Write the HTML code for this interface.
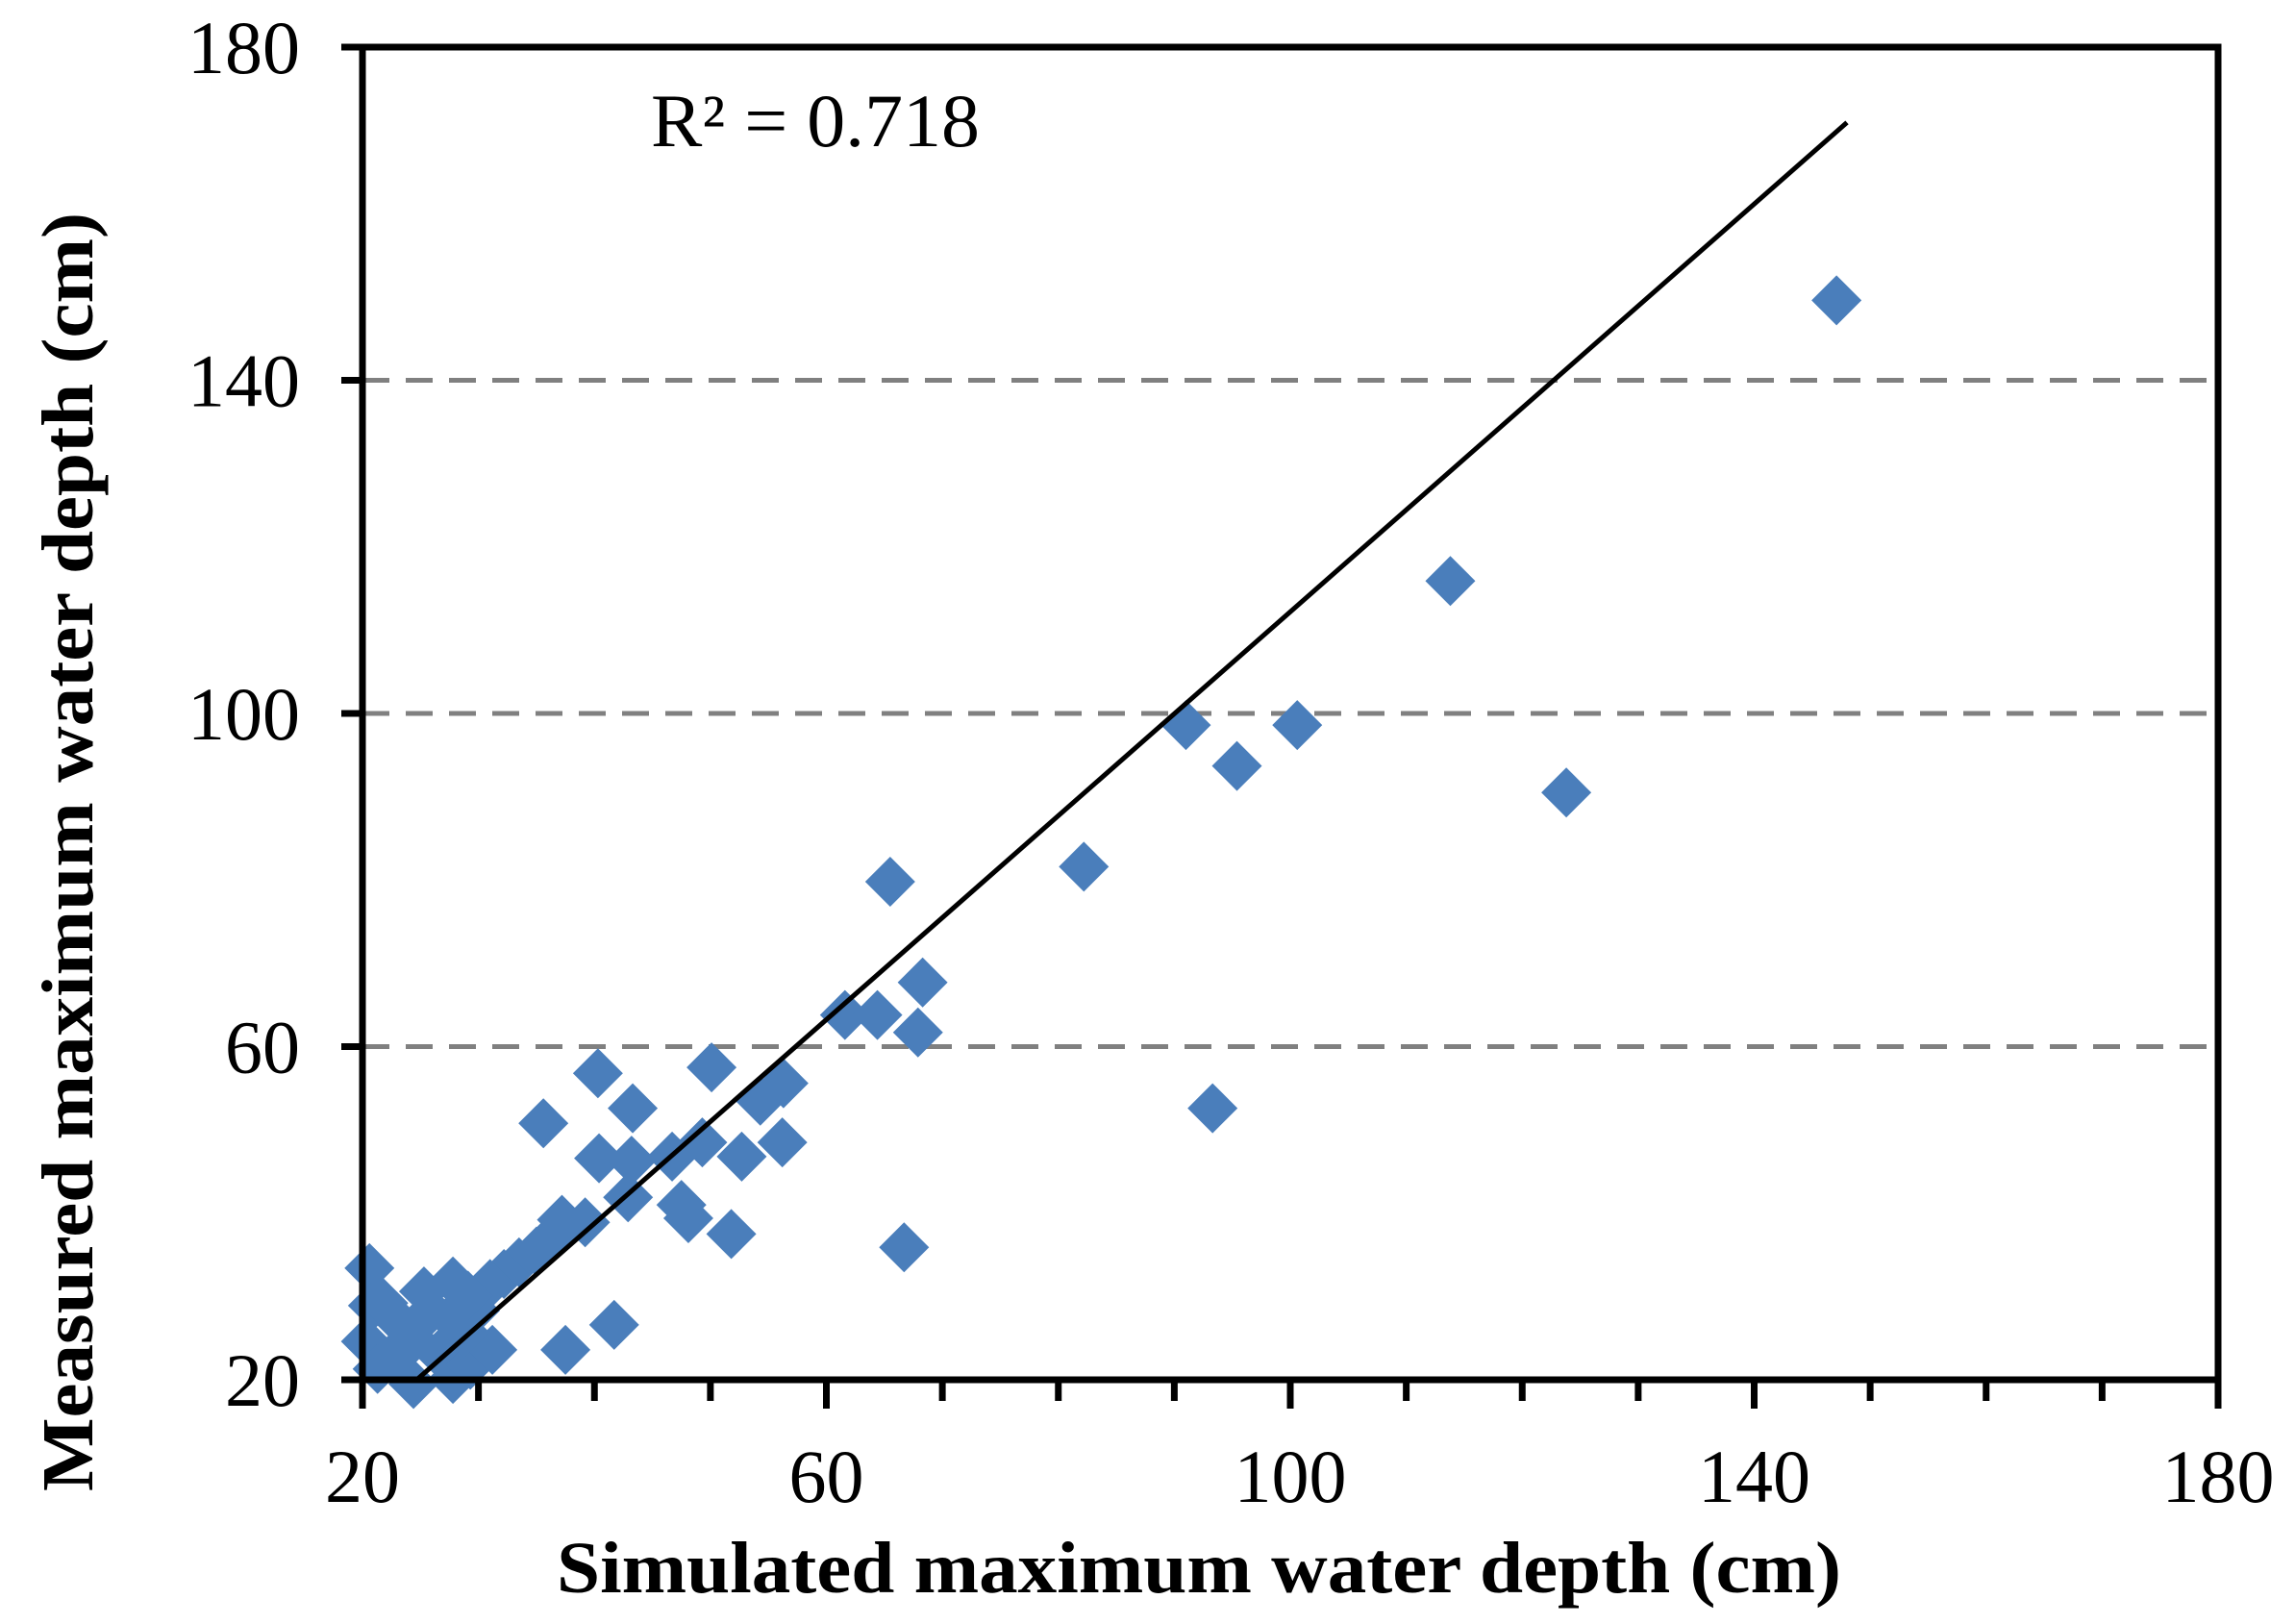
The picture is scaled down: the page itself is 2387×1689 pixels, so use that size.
<!DOCTYPE html>
<html><head><meta charset="utf-8"><style>
html,body{margin:0;padding:0;background:#fff;}
svg{display:block;font-family:"Liberation Serif",serif;}
</style></head><body>
<svg id="chart" width="2387" height="1689" viewBox="0 0 2387 1689" xmlns="http://www.w3.org/2000/svg">
<g id="grid"></g>
<g id="pts"></g>
<g id="trend"></g>
<g id="axes"></g>
<text x="677" y="152" font-size="78" textLength="342" lengthAdjust="spacingAndGlyphs">R² = 0.718</text>
<text x="1247" y="1656" font-size="76" font-weight="bold" text-anchor="middle" textLength="1336" lengthAdjust="spacingAndGlyphs">Simulated maximum water depth (cm)</text>
<text transform="translate(96,886) rotate(-90)" font-size="76" font-weight="bold" text-anchor="middle" textLength="1330" lengthAdjust="spacingAndGlyphs">Measured maximum water depth (cm)</text>
</svg>
<script>
const xTicks = [20, 60, 100, 140, 180];
const yTicks = [20, 60, 100, 140, 180];
const gridValues = [60, 100, 140];
const simulated = [147.1,113.8,91.0,100.6,95.4,123.8,82.2,65.5,68.3,67.9,61.6,64.4,93.3,50.1,40.3,43.3,56.3,54.3,35.6,56.2,52.7,49.3,46.7,40.4,43.2,47.5,48.1,42.9,51.8,66.7,37.2,39.2,36.3,35.0,33.5,32.2,31.0,41.7,37.5,20.6,20.9,21.8,25.3,25.9,20.3,21.3,24.4,26.6,24.4,27.8,29.3,31.2,28.8,27.6,29.7,23.4,22.8,29.1,27.8];
const measured = [149.6,115.9,98.6,98.6,93.7,90.5,81.6,79.8,67.7,61.7,63.8,63.8,52.6,57.5,56.8,52.6,55.6,53.5,50.8,48.5,46.8,48.5,46.8,46.6,46.3,41.0,39.4,41.9,37.5,35.9,39.2,38.9,37.1,35.4,34.1,32.7,31.5,26.6,23.6,33.4,28.9,29.2,30.6,28.3,24.6,21.3,24.8,23.1,19.5,20.1,21.8,23.6,25.7,27.4,28.3,26.6,23.1,30.1,31.8];
const trendX = [24.7, 148];
const trendSlope = 1.224, trendIntercept = -10.2;

const NS = "http://www.w3.org/2000/svg";
const L = 377, R = 2307, T = 49, B = 1435;
const xs = v => L + (v - 20) * (R - L) / 160;
const ys = v => B - (v - 20) * (B - T) / 160;
function mk(tag, attrs, parent) {
  const e = document.createElementNS(NS, tag);
  for (const k in attrs) e.setAttribute(k, attrs[k]);
  parent.appendChild(e);
  return e;
}
const grid = document.getElementById('grid');
gridValues.forEach(v => {
  const g = mk('line', {x1: L, x2: R, y1: ys(v), y2: ys(v), stroke: '#808080', 'stroke-width': 5, 'stroke-dasharray': '28 17'}, grid);
  
  
});
const pts = document.getElementById('pts');
simulated.forEach((sx, i) => {
  const cx = xs(sx), cy = ys(measured[i]), h = 26;
  const p = mk('polygon', {points: `${cx},${cy-h} ${cx+h},${cy} ${cx},${cy+h} ${cx-h},${cy}`, fill: '#4A7EBB'}, pts);
  
  
});
const tr = document.getElementById('trend');
const tl = mk('line', {x1: xs(trendX[0]), y1: ys(trendSlope*trendX[0]+trendIntercept), x2: xs(trendX[1]), y2: ys(trendSlope*trendX[1]+trendIntercept), stroke: '#000', 'stroke-width': 5}, tr);


const axes = document.getElementById('axes');
const frame = mk('rect', {x: L, y: T, width: R - L, height: B - T, fill: 'none', stroke: '#000', 'stroke-width': 7}, axes);


for (let v = 20; v <= 180; v += 10) {
  const major = (v - 20) % 40 === 0;
  const t = mk('line', {x1: xs(v), x2: xs(v), y1: B, y2: B + (major ? 30 : 22), stroke: '#000', 'stroke-width': 7}, axes);
  
  
}
xTicks.forEach(v => {
  const t = mk('text', {x: xs(v), y: 1562, 'font-size': 78, 'text-anchor': 'middle'}, axes);
  t.textContent = v;
  
  
});
yTicks.forEach(v => {
  const tk = mk('line', {x1: L - 22, x2: L, y1: ys(v), y2: ys(v), stroke: '#000', 'stroke-width': 7}, axes);
  
  
  const t = mk('text', {x: 312, y: ys(v) + 27, 'font-size': 78, 'text-anchor': 'end'}, axes);
  t.textContent = v;
  
  
});
</script>
</body></html>
